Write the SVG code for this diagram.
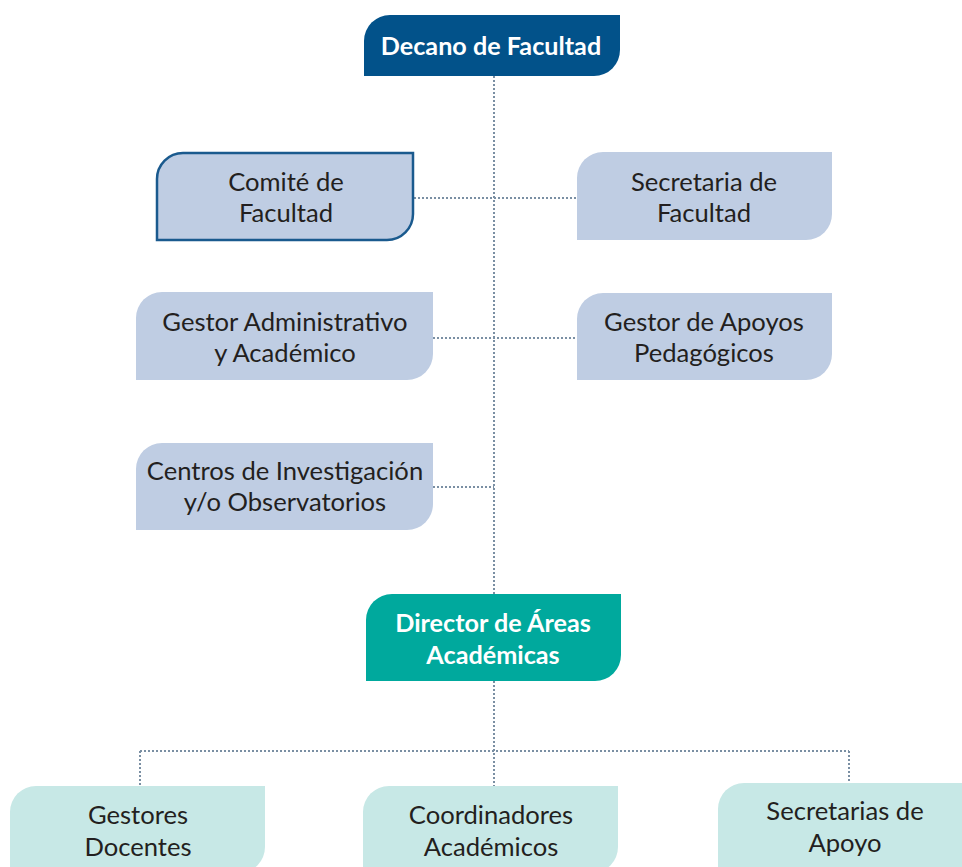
<svg xmlns="http://www.w3.org/2000/svg" width="962" height="867" viewBox="0 0 962 867">
<style>
.t{font-family:Lato,"Open Sans","Liberation Sans",sans-serif;font-size:25.6px;fill:#231f20;text-anchor:middle}
.w{font-family:Lato,"Open Sans","Liberation Sans",sans-serif;font-size:25.2px;font-weight:bold;fill:#ffffff;text-anchor:middle}
.blue{fill:#bfcde3}
.lteal{fill:#c7e8e6}
.c{fill:none;stroke:#7a8fa3;stroke-width:2;stroke-dasharray:2 2}
</style>
<rect width="962" height="867" fill="#ffffff"/>
<g id="connectors">
<path class="c" d="M494 76 V594"/>
<path class="c" d="M494 681 V786"/>
<path class="c" d="M414 198 H577"/>
<path class="c" d="M433 338 H577"/>
<path class="c" d="M433 487 H494"/>
<path class="c" d="M140 751 H849"/>
<path class="c" d="M140 751 V786"/>
<path class="c" d="M849 751 V783"/>
</g>
<g id="decano">
<path d="M390 15 H620 V50 A26 26 0 0 1 594 76 H364 V41 A26 26 0 0 1 390 15 Z" fill="#02528a"/>
<text class="w" x="491" y="55">Decano de Facultad</text>
</g>
<g id="comite">
<path d="M183 153 H413 V214 A26 26 0 0 1 387 240 H157 V179 A26 26 0 0 1 183 153 Z" class="blue" stroke="#1a5a8e" stroke-width="2.5"/>
<text class="t" x="286" y="191">Comité de</text>
<text class="t" x="286" y="222">Facultad</text>
</g>
<g id="secretaria">
<path d="M603 152 H832 V214 A26 26 0 0 1 806 240 H577 V178 A26 26 0 0 1 603 152 Z" class="blue"/>
<text class="t" x="704" y="191">Secretaria de</text>
<text class="t" x="704" y="222">Facultad</text>
</g>
<g id="gestor-admin">
<path d="M162 292 H433 V354 A26 26 0 0 1 407 380 H136 V318 A26 26 0 0 1 162 292 Z" class="blue"/>
<text class="t" x="285" y="331">Gestor Administrativo</text>
<text class="t" x="285" y="362">y Académico</text>
</g>
<g id="gestor-apoyos">
<path d="M603 293 H832 V354 A26 26 0 0 1 806 380 H577 V319 A26 26 0 0 1 603 293 Z" class="blue"/>
<text class="t" x="704" y="331">Gestor de Apoyos</text>
<text class="t" x="704" y="362">Pedagógicos</text>
</g>
<g id="centros">
<path d="M162 443 H433 V504 A26 26 0 0 1 407 530 H136 V469 A26 26 0 0 1 162 443 Z" class="blue"/>
<text class="t" x="285" y="480">Centros de Investigación</text>
<text class="t" x="285" y="511">y/o Observatorios</text>
</g>
<g id="director">
<path d="M392 594 H621 V655 A26 26 0 0 1 595 681 H366 V620 A26 26 0 0 1 392 594 Z" fill="#00a99d"/>
<text class="w" x="493" y="632">Director de Áreas</text>
<text class="w" x="493" y="664">Académicas</text>
</g>
<g id="gestores-docentes">
<path d="M36 786 H265 V847 A26 26 0 0 1 239 873 H10 V812 A26 26 0 0 1 36 786 Z" class="lteal"/>
<text class="t" x="138" y="824">Gestores</text>
<text class="t" x="138" y="856">Docentes</text>
</g>
<g id="coordinadores">
<path d="M389 786 H618 V847 A26 26 0 0 1 592 873 H363 V812 A26 26 0 0 1 389 786 Z" class="lteal"/>
<text class="t" x="491" y="824">Coordinadores</text>
<text class="t" x="491" y="856">Académicos</text>
</g>
<g id="secretarias-apoyo">
<path d="M744 783 H973 V873 H718 V809 A26 26 0 0 1 744 783 Z" class="lteal"/>
<text class="t" x="845" y="820">Secretarias de</text>
<text class="t" x="845" y="852">Apoyo</text>
</g>
</svg>
